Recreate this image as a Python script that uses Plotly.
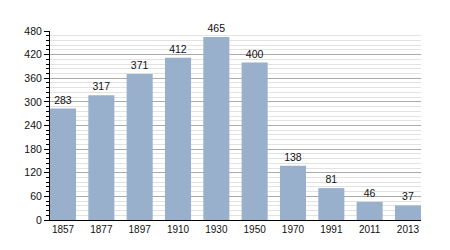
import plotly.graph_objects as go

years = ["1857", "1877", "1897", "1910", "1930", "1950", "1970", "1991", "2011", "2013"]
population = [283, 317, 371, 412, 465, 400, 138, 81, 46, 37]
y_ticks = [0, 60, 120, 180, 240, 300, 360, 420, 480]

fig = go.Figure()
fig.add_trace(go.Bar(
    x=list(range(len(years))),
    y=population,
    width=0.68,
    marker=dict(color="#98b0cc", line=dict(width=0)),
    text=[str(v) for v in population],
    textposition="outside",
    cliponaxis=False,
    textfont=dict(family="Liberation Sans, Arial, sans-serif", size=10.5, color="#111"),
))

fig.update_layout(
    width=450, height=250,
    margin=dict(l=50, r=29, t=31, b=30),
    paper_bgcolor="white",
    plot_bgcolor="white",
    showlegend=False,
    font=dict(family="Liberation Sans, Arial, sans-serif", size=10.5, color="#111"),
    xaxis=dict(
        range=[-0.34, 9.34],
        tickmode="array",
        tickvals=list(range(len(years))),
        ticktext=years,
        showgrid=False,
        showline=True, linecolor="black", linewidth=1,
        ticks="", zeroline=False,
        tickfont=dict(size=10),
    ),
    yaxis=dict(
        range=[0, 480],
        tickmode="array",
        tickvals=y_ticks,
        showgrid=True, gridcolor="#aaaaaa", gridwidth=1,
        showline=True, linecolor="black", linewidth=1,
        ticks="outside", ticklen=5, tickcolor="black", tickwidth=1,
        zeroline=False,
        tickfont=dict(size=10.5),
        minor=dict(dtick=12, showgrid=True, gridcolor="#e2e2e2", gridwidth=1,
                   ticks="outside", ticklen=3, tickcolor="black", tickwidth=1),
    ),
)

fig.write_html("out.html")
